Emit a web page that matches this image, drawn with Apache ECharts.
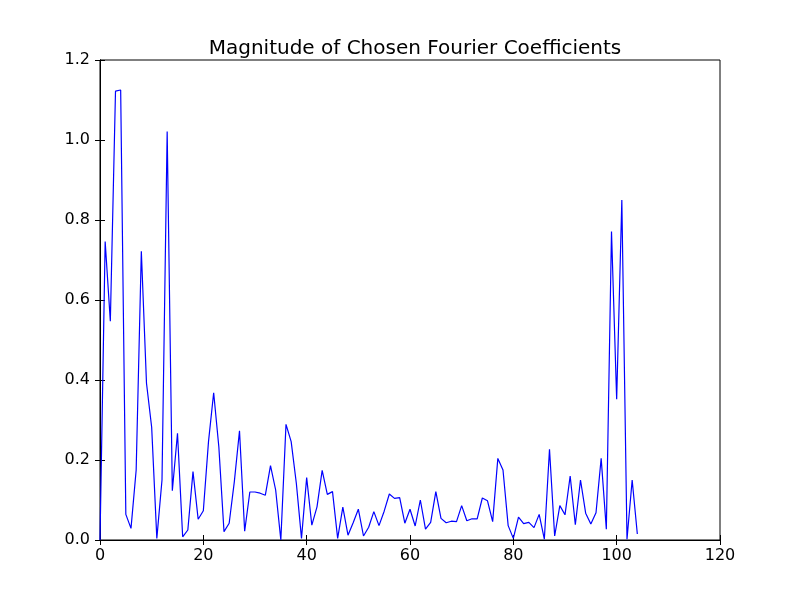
<!DOCTYPE html>
<html>
<head>
<meta charset="utf-8">
<script src="https://cdn.jsdelivr.net/npm/echarts@6/dist/echarts.min.js"></script>
<style>html,body{margin:0;padding:0;background:#fff;}#c{width:800px;height:600px;}</style>
</head>
<body>
<div id="c"></div>
<script>
const titleText = "Magnitude of Chosen Fourier Coefficients";
const xTicks = [0, 20, 40, 60, 80, 100, 120];
const yTicks = [0.0, 0.2, 0.4, 0.6, 0.8, 1.0, 1.2];
const magnitudes = [
  0.0, 0.746, 0.547, 1.122, 1.125, 0.064, 0.029, 0.175, 0.722, 0.392,
  0.282, 0.004, 0.15, 1.021, 0.123, 0.267, 0.008, 0.025, 0.171, 0.052,
  0.073, 0.246, 0.368, 0.233, 0.021, 0.042, 0.146, 0.273, 0.022, 0.12,
  0.12, 0.117, 0.112, 0.186, 0.125, 0.0, 0.289, 0.246, 0.142, 0.004,
  0.156, 0.037, 0.083, 0.174, 0.114, 0.121, 0.004, 0.082, 0.012, 0.043,
  0.077, 0.01, 0.032, 0.071, 0.036, 0.072, 0.115, 0.104, 0.106, 0.042,
  0.077, 0.035, 0.1, 0.027, 0.044, 0.121, 0.054, 0.043, 0.047, 0.046,
  0.086, 0.048, 0.053, 0.053, 0.105, 0.098, 0.046, 0.204, 0.175, 0.036,
  0.004, 0.057, 0.041, 0.044, 0.031, 0.064, 0.002, 0.227, 0.01, 0.086,
  0.063, 0.16, 0.038, 0.15, 0.067, 0.04, 0.068, 0.204, 0.027, 0.771,
  0.352, 0.85, 0.002, 0.15, 0.015
];
const indices = magnitudes.map((_, i) => i);
const seriesData = indices.map((i) => [i, magnitudes[i]]);

const chart = echarts.init(document.getElementById('c'), null, {renderer: 'canvas'});
const fontFam = 'DejaVu Sans';
const tickCommon = {show: true, inside: true, length: 5, lineStyle: {color: '#000', width: 1}};
chart.setOption({
  animation: false,
  backgroundColor: '#ffffff',
  title: {
    text: titleText, left: 410, textAlign: 'center', top: 34,
    textStyle: {fontFamily: fontFam, fontSize: 20, fontWeight: 'normal', color: '#000'}
  },
  grid: {left: 100, right: 80, top: 60, bottom: 60, show: true, borderColor: '#000', borderWidth: 1, backgroundColor: 'transparent'},
  xAxis: [{
    type: 'value', min: xTicks[0], max: xTicks[xTicks.length - 1], interval: 20,
    axisLine: {show: true, lineStyle: {color: '#000'}},
    axisTick: tickCommon,
    splitLine: {show: false},
    axisLabel: {fontFamily: fontFam, fontSize: 16, color: '#000', margin: 8}
  }, {
    type: 'value', position: 'top', min: xTicks[0], max: xTicks[xTicks.length - 1], interval: 20,
    axisLine: {show: true, lineStyle: {color: '#000'}},
    axisTick: tickCommon, axisLabel: {show: false}, splitLine: {show: false}
  }],
  yAxis: [{
    type: 'value', min: yTicks[0], max: yTicks[yTicks.length - 1], interval: 0.2,
    axisLine: {show: true, lineStyle: {color: '#000'}},
    axisTick: tickCommon,
    splitLine: {show: false},
    axisLabel: {fontFamily: fontFam, fontSize: 16, color: '#000', margin: 10,
      formatter: (v) => v.toFixed(1)}
  }, {
    type: 'value', position: 'right', min: yTicks[0], max: yTicks[yTicks.length - 1], interval: 0.2,
    axisLine: {show: true, lineStyle: {color: '#000'}},
    axisTick: tickCommon, axisLabel: {show: false}, splitLine: {show: false}
  }],
  series: [{
    type: 'line', data: seriesData, xAxisIndex: 0, yAxisIndex: 0,
    showSymbol: false, symbol: 'none',
    lineStyle: {color: '#0000ff', width: 1.2},
    itemStyle: {color: '#0000ff'}
  }]
});
</script>
</body>
</html>
